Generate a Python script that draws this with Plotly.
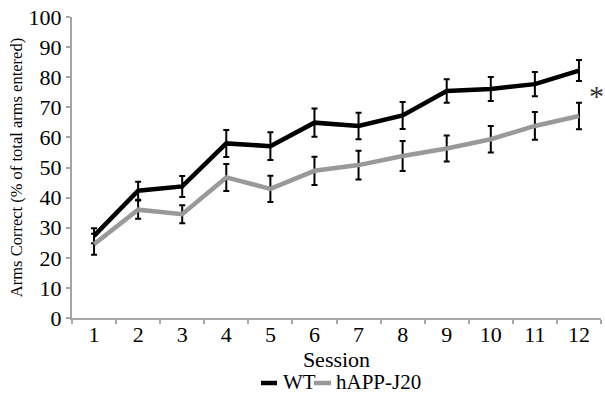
import plotly.graph_objects as go

sessions = ["1", "2", "3", "4", "5", "6", "7", "8", "9", "10", "11", "12"]
wt_mean = [27.3, 42.3, 43.7, 58.0, 57.1, 64.9, 63.8, 67.3, 75.4, 76.1, 77.7, 82.2]
wt_err = [2.5, 3.0, 3.5, 4.5, 4.6, 4.7, 4.4, 4.5, 3.9, 4.0, 4.0, 3.5]
j20_mean = [24.5, 36.0, 34.5, 46.7, 42.9, 48.9, 50.8, 53.8, 56.3, 59.4, 63.8, 67.1]
j20_err = [3.5, 3.0, 3.0, 4.5, 4.4, 4.7, 4.8, 5.0, 4.3, 4.4, 4.6, 4.4]
yticks = [0, 10, 20, 30, 40, 50, 60, 70, 80, 90, 100]
series_names = ["WT", "hAPP-J20"]
series_colors = ["#000000", "#999999"]

FONT = "Liberation Serif, Times New Roman, serif"
W, H = 605, 393
ML, MR, MT, MB = 72, 4, 17, 75
PW = W - ML - MR
PH = H - MT - MB


def px_x(px):
    return (px - ML) / PW


def px_y(py):
    return (H - MB - py) / PH


fig = go.Figure()
for name, color, mean, err in [(series_names[0], series_colors[0], wt_mean, wt_err),
                               (series_names[1], series_colors[1], j20_mean, j20_err)]:
    fig.add_trace(go.Scatter(
        x=sessions, y=mean, mode="lines", name=name, showlegend=False,
        line=dict(color=color, width=4.5),
        error_y=dict(type="data", array=err, visible=True, color="#000000", thickness=2, width=3),
    ))

# significance marker
fig.add_annotation(text="*", xref="paper", yref="paper", x=px_x(596), y=px_y(95),
                   xanchor="center", yanchor="middle", showarrow=False,
                   font=dict(family=FONT, size=30, color="#333333"))

# compact legend with short swatches, as in the reference
legend_y = 382
swatches = [(261, 277, 281), (314, 331, 334)]
for (x0, x1, tx), name, color in zip(swatches, series_names, series_colors):
    fig.add_shape(type="line", xref="paper", yref="paper",
                  x0=px_x(x0), x1=px_x(x1), y0=px_y(legend_y + 1), y1=px_y(legend_y + 1),
                  line=dict(color=color, width=4.5))
    fig.add_annotation(text=name, xref="paper", yref="paper", x=px_x(tx), y=px_y(legend_y),
                       xanchor="left", yanchor="middle", showarrow=False,
                       font=dict(family=FONT, size=21, color="#000000"))

fig.update_layout(
    width=W, height=H,
    margin=dict(l=ML, r=MR, t=MT, b=MB, autoexpand=False),
    paper_bgcolor="white", plot_bgcolor="white",
    font=dict(family=FONT, color="#000000"),
    showlegend=False,
    xaxis=dict(
        type="category", range=[-0.5, 11.5], tickson="boundaries",
        showline=True, linecolor="#a6a6a6", linewidth=2,
        ticks="outside", tickcolor="#a6a6a6", ticklen=4, tickwidth=2,
        showgrid=False, zeroline=False,
        tickfont=dict(family=FONT, size=22),
        ticklabelstandoff=-4,
        title=dict(text="Session", font=dict(family=FONT, size=22), standoff=0),
    ),
    yaxis=dict(
        range=[0, 100], tickvals=yticks, ticktext=[str(v) for v in yticks],
        showline=True, linecolor="#a6a6a6", linewidth=2,
        ticks="outside", tickcolor="#a6a6a6", ticklen=4, tickwidth=2,
        showgrid=False, zeroline=False,
        tickfont=dict(family=FONT, size=22),
        title=dict(text="Arms Correct (% of total arms entered)", font=dict(family=FONT, size=16.5), standoff=2),
    ),
)

# remove the default page margin so the 605x393 figure fills the window exactly
fig.write_html("out.html",
               config={"displayModeBar": False},
               post_script="document.body.style.margin='0';document.body.style.overflow='hidden';")
